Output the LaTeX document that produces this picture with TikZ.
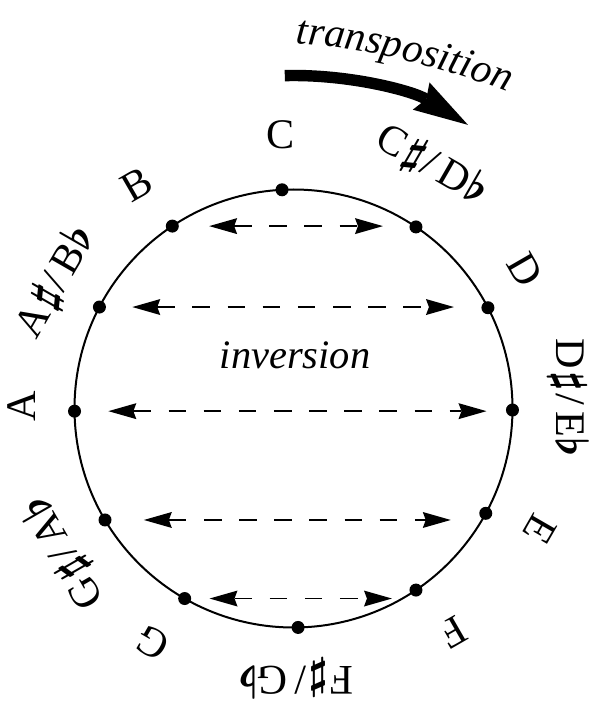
\documentclass[tikz,border=0pt]{standalone}
\usepackage{fontspec}
\setmainfont{Liberation Serif}
\usetikzlibrary{arrows.meta,decorations.text}
\newcommand{\shp}{\kern1.5pt{\boldmath$\sharp$}\kern1pt}
\newcommand{\flt}{{\boldmath$\flat$}}
\tikzset{
    % pitch-class dots sitting on the ring
    pitch/.style={circle, fill=black, minimum size=0.26cm, inner sep=0pt},
    % note names, set tangent to the ring
    notename/.style={font=\fontsize{24}{28}\selectfont, inner sep=0pt},
    % inversion pairs (dashed, two heads)
    invarrow/.style={{Stealth[length=0.56cm,width=0.32cm,inset=0.06cm,line width=0pt]}-{Stealth[length=0.56cm,width=0.32cm,inset=0.06cm,line width=0pt]},
                     line width=1.1pt, dash pattern=on 10pt off 10pt},
    % heavy curved transposition arrow
    transarrow/.style={-{Stealth[length=1.1cm,width=0.64cm,inset=0.12cm,line width=0pt]}, line width=6.5pt},
}

\begin{document}
\begin{tikzpicture}
  \useasboundingbox (-5.87,-6.29) rectangle (5.97,8.17);
  % the ring
  \draw[line width=0.04cm] (0,0) circle (4.38cm);

  \node[pitch] (C)  at (93:4.38)    {};
  \node[pitch] (Cs) at (56:4.38)    {};
  \node[pitch] (D)  at (27.4:4.38)  {};
  \node[pitch] (Ds) at (-0.4:4.38)  {};
  \node[pitch] (E)  at (-28.6:4.38) {};
  \node[pitch] (F)  at (-56:4.38)   {};
  \node[pitch] (Fs) at (-88.8:4.38) {};
  \node[pitch] (G)  at (-119.8:4.38){};
  \node[pitch] (Gs) at (-149.4:4.38){};
  \node[pitch] (A)  at (180.7:4.38) {};
  \node[pitch] (As) at (152.4:4.38) {};
  \node[pitch] (B)  at (123.6:4.38) {};

  \node[notename] (lC)  at (92.8:5.48)  {C};
  \node[notename,rotate=-30] (lCs) at (60.4:5.6) {C\shp/\,D\flt};
  \node[notename,rotate=-60] (lD)  at (30.9:5.4) {D};
  \node[notename,rotate=-90] (lDs) at (2.2:5.5) {D\shp/\,E\flt};
  \node[notename,rotate=-120] (lE) at (-26.2:5.5) {E};
  \node[notename,rotate=-150] (lF) at (-54.6:5.5) {F};
  \node[notename,rotate=180] (lFs) at (-89.5:5.4) {F\shp/\,G\flt};
  \node[notename,rotate=150] (lG)  at (-121:5.46) {G};
  \node[notename,rotate=120] (lGs) at (-148:5.42) {G\shp/\,A\flt};
  \node[notename,rotate=90]  (lA)  at (179.5:5.43) {A};
  \node[notename,rotate=60]  (lAs) at (152:5.38)  {A\shp/\,B\flt};
  \node[notename,rotate=30]  (lB)  at (125:5.46)  {B};

  % inversion: mirror pairs across the C--F# axis
  \draw[invarrow,shorten <=0.6cm,shorten >=0.66cm]  (B)  -- (B -| Cs);
  \draw[invarrow,shorten <=0.52cm,shorten >=0.68cm] (As) -- (As -| D);
  \draw[invarrow,shorten <=0.54cm,shorten >=0.52cm] (A)  -- (A -| Ds);
  \draw[invarrow,shorten <=0.64cm,shorten >=0.7cm]  (Gs) -- (Gs -| E);
  \draw[invarrow,shorten <=0.36cm,shorten >=0.48cm] (G)  -- (G -| F);
  \node[font=\itshape\fontsize{23}{27}\selectfont] (inv) at (0.03,1.07) {inversion};

  % transposition: turn round the ring
  \draw[transarrow] (91.5:6.66) arc[start angle=91.5, end angle=58.4, radius=6.66];
  \path[decorate, decoration={text along path, text align=center,
        text={|\itshape\fontsize{23.5}{28}\selectfont|transposition}}]
        (-1.22,-7.84) ++(88:15.2) arc[start angle=88, end angle=66, radius=15.2];
\end{tikzpicture}
\end{document}
